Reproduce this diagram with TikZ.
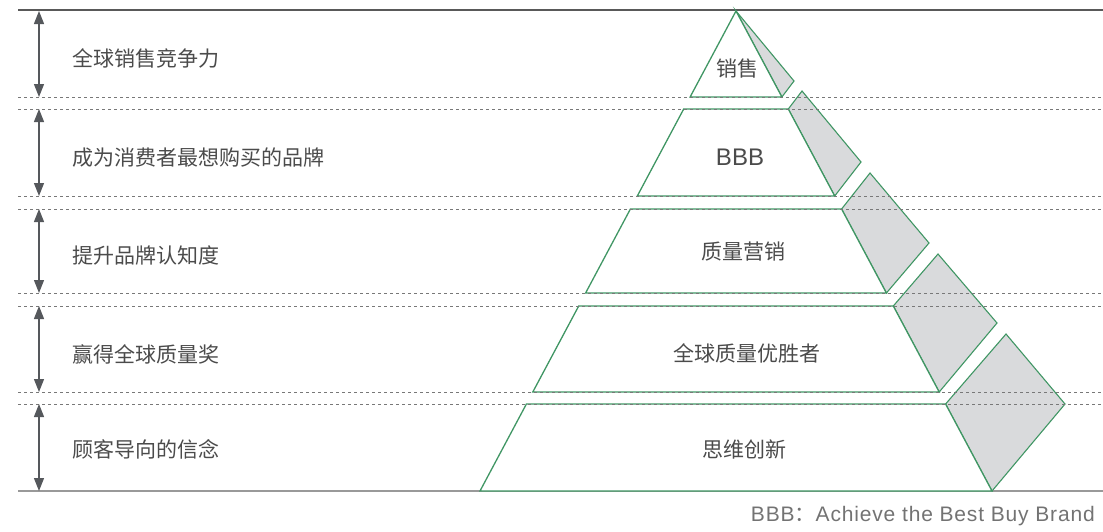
\documentclass[tikz,border=0pt]{standalone}
\usepackage{fontspec}
\setmainfont{Liberation Sans}
\newfontfamily\cjk{Noto Sans CJK SC}
\newfontfamily\capfont[LetterSpace=4]{Liberation Sans}
\usetikzlibrary{arrows.meta}
\definecolor{pyrgreen}{RGB}{64,150,100}
\definecolor{sidegray}{RGB}{217,218,220}
\definecolor{labelgray}{RGB}{75,75,75}
\definecolor{dashgray}{RGB}{120,120,120}
\definecolor{arrowgray}{RGB}{85,88,92}
\definecolor{notegray}{RGB}{115,115,115}

\begin{document}
\begin{tikzpicture}[x=1pt, y=-1pt,
  slice/.style={draw=pyrgreen, fill=white, line width=1.3pt},
  side/.style={draw=pyrgreen, fill=sidegray, line width=1.1pt},
  sepline/.style={draw=dashgray, dash pattern=on 3pt off 3pt, line width=0.8pt},
  gauge/.style={draw=arrowgray, line width=1.4pt, {Triangle[width=10pt,length=13pt]}-{Triangle[width=10pt,length=13pt]}},
  goal/.style={anchor=west, inner sep=0pt, text=labelgray, font=\cjk\fontsize{21}{24}\selectfont},
  tier/.style={inner sep=0pt, text=labelgray, font=\cjk\fontsize{21}{24}\selectfont}]
  \useasboundingbox (0,0) rectangle (1103,531);

  % Frame lines
  \draw[draw=black!65, line width=1.2pt] (18,10) -- (1103,10);
  \draw[draw=black!40, line width=1.5pt] (18,491) -- (1103,491);

  % Side faces
  \draw[side] (736,11) -- (781.9,97) -- (794,81) -- cycle;
  \draw[side] (788.3,109) -- (834.7,196) -- (861,162) -- (802,91) -- cycle;
  \draw[side] (841.6,209) -- (886.4,293) -- (929,243) -- (870,173) -- cycle;
  \draw[side] (893.3,306) -- (939.2,392) -- (997,323) -- (938,254) -- cycle;
  \draw[side] (945.6,404) -- (992,491) -- (1065,404) -- (1006,334) -- cycle;

  % Pyramid slices
  \draw[slice] (736,11) -- (781.9,97) -- (690.1,97) -- cycle;
  \draw[slice] (683.7,109) -- (788.3,109) -- (834.7,196) -- (637.3,196) -- cycle;
  \draw[slice] (630.4,209) -- (841.6,209) -- (886.4,293) -- (585.6,293) -- cycle;
  \draw[slice] (578.7,306) -- (893.3,306) -- (939.2,392) -- (532.8,392) -- cycle;
  \draw[slice] (526.4,404) -- (945.6,404) -- (992,491) -- (480,491) -- cycle;

  % Separators
  \draw[sepline] (18,97) -- (1103,97);
  \draw[sepline] (18,109) -- (1103,109);
  \draw[sepline] (18,196) -- (1103,196);
  \draw[sepline] (18,209) -- (1103,209);
  \draw[sepline] (18,293) -- (1103,293);
  \draw[sepline] (18,306) -- (1103,306);
  \draw[sepline] (18,392) -- (1103,392);
  \draw[sepline] (18,404) -- (1103,404);

  % Gauges
  \coordinate (g1a) at (39,11);
  \coordinate (g1b) at (39,97);
  \coordinate (g2a) at (39,109);
  \coordinate (g2b) at (39,196);
  \coordinate (g3a) at (39,209);
  \coordinate (g3b) at (39,293);
  \coordinate (g4a) at (39,306);
  \coordinate (g4b) at (39,392);
  \coordinate (g5a) at (39,404);
  \coordinate (g5b) at (39,491);
  \draw[gauge] (g1a) -- (g1b);
  \draw[gauge] (g2a) -- (g2b);
  \draw[gauge] (g3a) -- (g3b);
  \draw[gauge] (g4a) -- (g4b);
  \draw[gauge] (g5a) -- (g5b);

  % Goals
  \node[goal] (goal1) at (72,58) {全球销售竞争力};
  \node[goal] (goal2) at (72,158) {成为消费者最想购买的品牌};
  \node[goal] (goal3) at (72,255) {提升品牌认知度};
  \node[goal] (goal4) at (72,354) {赢得全球质量奖};
  \node[goal] (goal5) at (72,449) {顾客导向的信念};

  % Tiers
  \node[tier] (tier1) at (737,69) {销售};
  \node[tier, font=\fontsize{24}{28}\selectfont] (tier2) at (740,157.5) {BBB};
  \node[tier] (tier3) at (743,252) {质量营销};
  \node[tier] (tier4) at (747,353) {全球质量优胜者};
  \node[tier] (tier5) at (744,449) {思维创新};

  % Note
  \node[anchor=base east, inner sep=0pt, text=notegray, font=\capfont\fontsize{21}{24}\selectfont] (note) at (1095,521) {BBB{\cjk ：}Achieve the Best Buy Brand};
\end{tikzpicture}
\end{document}
